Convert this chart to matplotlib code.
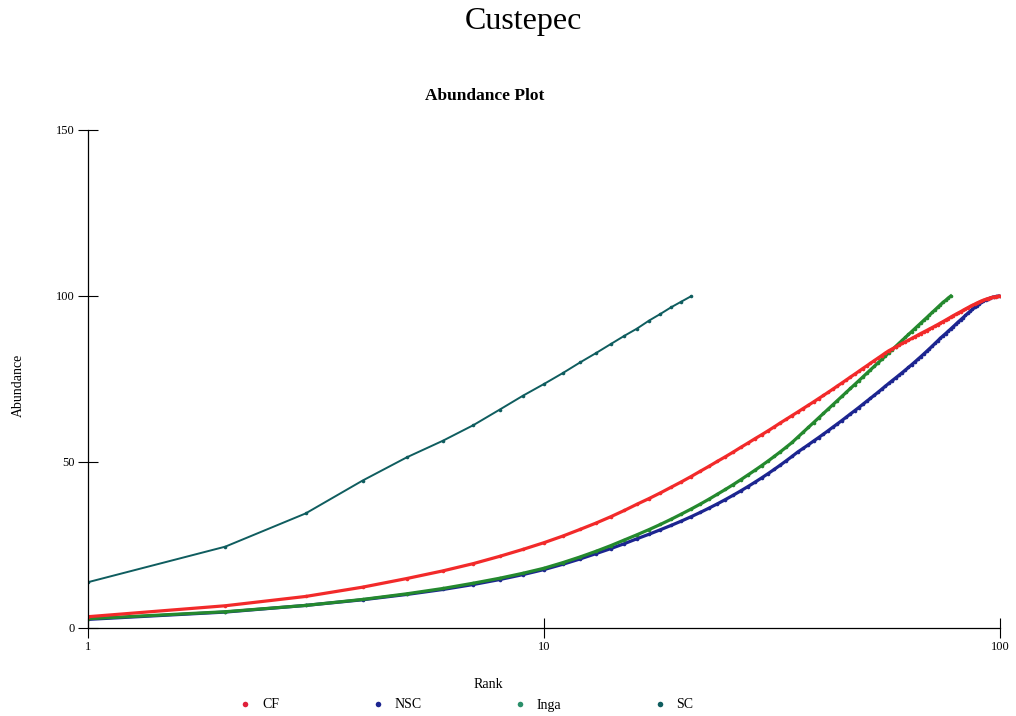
import matplotlib
matplotlib.use("Agg")
import matplotlib.pyplot as plt
from matplotlib.lines import Line2D

plt.rcParams['font.family'] = ['Liberation Serif', 'DejaVu Serif']

# cumulative abundance (%) by species rank
cf = [3.4, 6.7, 9.5, 12.3, 14.9, 17.2, 19.4, 21.6, 23.7, 25.7,
      27.7, 29.7, 31.6, 33.5, 35.4, 37.3, 39.0, 40.7, 42.4, 44.0,
      45.6, 47.2, 48.7, 50.2, 51.6, 53.0, 54.4, 55.7, 57.0, 58.2,
      59.4, 60.6, 61.8, 62.9, 64.0, 65.05, 66.1, 67.1, 68.1, 69.1,
      70.05, 71.0, 71.95, 72.9, 73.8, 74.7, 75.6, 76.45, 77.3, 78.15,
      78.95, 79.75, 80.55, 81.3, 82.05, 82.8, 83.5, 84.05, 84.6, 85.15,
      85.7, 86.2, 86.7, 87.2, 87.7, 88.2, 88.7, 89.15, 89.6, 90.05,
      90.5, 90.95, 91.4, 91.85, 92.3, 92.75, 93.2, 93.65, 94.1, 94.5,
      94.9, 95.3, 95.7, 96.1, 96.5, 96.85, 97.2, 97.55, 97.9, 98.2,
      98.5, 98.75, 99.0, 99.2, 99.4, 99.55, 99.7, 99.8, 99.9, 100.0]

nsc = [2.6, 4.8, 6.8, 8.5, 10.1, 11.6, 13.1, 14.6, 16.1, 17.6,
       19.2, 20.8, 22.4, 23.9, 25.4, 26.9, 28.25, 29.6, 30.9, 32.2,
       33.5, 34.8, 36.1, 37.4, 38.7, 40.0, 41.3, 42.6, 43.9, 45.2,
       46.5, 47.8, 49.1, 50.4, 51.7, 53.0, 54.1, 55.2, 56.3, 57.35,
       58.4, 59.45, 60.5, 61.5, 62.5, 63.5, 64.5, 65.45, 66.4, 67.35,
       68.3, 69.2, 70.1, 71.0, 71.9, 72.8, 73.65, 74.5, 75.3, 76.1,
       76.9, 77.7, 78.5, 79.3, 80.1, 80.9, 81.7, 82.5, 83.3, 84.1,
       84.9, 85.7, 86.5, 87.3, 88.0, 88.7, 89.4, 90.1, 90.8, 91.5,
       92.2, 92.85, 93.5, 94.15, 94.8, 95.4, 96.0, 96.55, 97.1, 97.6,
       98.05, 98.45, 98.8, 99.1, 99.35, 99.55, 99.72, 99.85, 99.95, 100.0]

inga = [2.8, 4.9, 6.8, 8.6, 10.3, 11.9, 13.5, 15.0, 16.5, 18.0,
        19.7, 21.4, 23.1, 24.8, 26.5, 28.1, 29.65, 31.2, 32.75, 34.3,
        35.8, 37.3, 38.8, 40.3, 41.75, 43.2, 44.65, 46.1, 47.5, 48.9,
        50.3, 51.7, 53.1, 54.5, 55.9, 57.45, 58.96, 60.43, 61.86, 63.26,
        64.62, 65.95, 67.25, 68.52, 69.76, 70.98, 72.17, 73.33, 74.47, 75.59,
        76.69, 77.77, 78.82, 79.86, 80.88, 81.88, 82.86, 83.82, 84.77, 85.7,
        86.62, 87.52, 88.41, 89.28, 90.14, 90.99, 91.82, 92.64, 93.45, 94.25,
        95.04, 95.82, 96.59, 97.35, 98.1, 98.7, 99.4, 100.0]

sc = [13.8, 24.5, 34.5, 44.4, 51.4, 56.4, 61.1, 65.8, 70.0, 73.5,
      76.8, 80.0, 82.8, 85.5, 88.0, 90.2, 92.6, 94.6, 96.6, 98.3, 99.9]

names = ['CF', 'NSC', 'Inga', 'SC']
colors = {'CF': '#f22a2a', 'NSC': '#1c2590', 'Inga': '#24892e', 'SC': '#0f5d5f'}
legend_colors = {'CF': '#e0203a', 'NSC': '#1c2590', 'Inga': '#2a8f6a', 'SC': '#0f5d5f'}

fig = plt.figure(figsize=(10.16, 7.16), dpi=100)
ax = fig.add_axes([88 / 1016, 1 - 628 / 716, 912 / 1016, 498 / 716])

series = {'CF': cf, 'NSC': nsc, 'Inga': inga, 'SC': sc}
for name in ['NSC', 'Inga', 'CF', 'SC']:
    vals = series[name]
    ranks = list(range(1, len(vals) + 1))
    lw = 1.4 if name == 'SC' else 2.3
    ax.plot(ranks, vals, color=colors[name], lw=lw, marker='o', ms=2.6,
            markeredgewidth=0)

ax.set_xscale('log')
ax.set_xlim(1, 100)
ax.set_ylim(0, 150)
ax.set_xticks([1, 10, 100])
ax.set_xticklabels(['1', '10', '100'])
ax.xaxis.set_minor_locator(matplotlib.ticker.NullLocator())
ax.set_yticks([0, 50, 100, 150])
ax.set_yticklabels(['0', '50', '100', '150'])
for s in ['top', 'right']:
    ax.spines[s].set_visible(False)
for s in ['left', 'bottom']:
    ax.spines[s].set_linewidth(0.9)
ax.tick_params(direction='inout', length=15, width=0.8, labelsize=9, pad=2)

ax.set_xlabel('Rank', fontsize=10)
ax.xaxis.set_label_coords((488 - 88) / 912, (628 - 684) / 498)
ax.xaxis.label.set_va('center')
ax.set_ylabel('Abundance', fontsize=10)
ax.yaxis.set_label_coords((18 - 88) / 912, (628 - 385) / 498)
ax.yaxis.label.set_va('center')

fig.text(523 / 1016, 1 - 22 / 716, 'Custepec', ha='center', va='center', fontsize=23)
fig.text(485 / 1016, 1 - 96 / 716, 'Abundance Plot', ha='center', va='center',
         fontsize=12.5, fontweight='bold')

handles = [Line2D([], [], ls='', marker='o', ms=4, markeredgewidth=0,
                  color=legend_colors[n]) for n in names]
fig.legend(handles, names, loc='center', bbox_to_anchor=(466 / 1016, 1 - 705 / 716),
           ncol=4, frameon=False, fontsize=10, handlelength=1,
           handletextpad=0.7, columnspacing=6.6)

fig.savefig('out.png', dpi=100)
